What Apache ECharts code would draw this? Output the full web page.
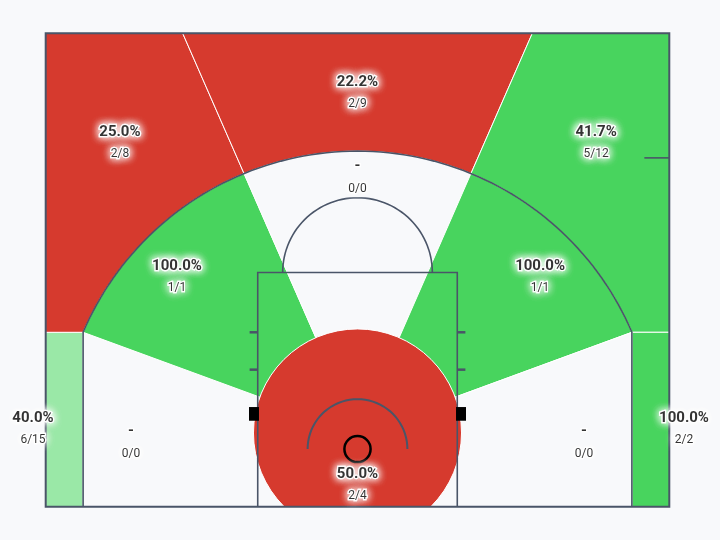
<!DOCTYPE html>
<html><head><meta charset="utf-8">
<script src="https://cdn.jsdelivr.net/npm/echarts/dist/echarts.min.js"></script>
<style>html,body{margin:0;padding:0;background:#f8f9fb;}#c{width:720px;height:540px;}</style>
</head><body><div id="c"></div>
<script>
// ---------- DATA ----------
const zoneNames = ['Left Corner 3','Left Wing 3','Top 3','Right Wing 3','Right Corner 3',
                   'Left Baseline 2','Left Wing 2','Top Key 2','Right Wing 2','Right Baseline 2','Restricted Area'];
const makes    = [6, 2, 2, 5, 2, 0, 1, 0, 1, 0, 2];
const attempts = [15, 8, 9, 12, 2, 0, 1, 0, 1, 0, 4];

// ---------- STYLE / LAYOUT ----------
const zoneColors = ['#9ae8a7','#d63a2e','#d63a2e','#48d45e','#48d45e',
                    '#f8f9fb','#48d45e','#f8f9fb','#48d45e','#f8f9fb','#d63a2e'];
// label anchor (court feet: x across, y from baseline)
const labelPos = [[-26.02,6.2],[-19.05,29.19],[0,33.2],[19.13,29.19],[26.18,6.2],
                  [-18.16,5.15],[-14.47,18.4],[0,26.42],[14.64,18.4],[18.16,5.15],[0,1.74]];
// court geometry in feet
const G = {halfW:25, len:38, basketY:4.63, zoneCY:5.92, rimZoneR:8.34, cornerX:22, cornerY:14,
           paintHW:8, paintLen:18.8, ftR:6, raR:4, rayLow:20.2, rayHigh:66.4, rimR:1.05};

const B = [0, G.basketY], C = [0, G.zoneCY];
const r3 = Math.hypot(G.cornerX, G.cornerY - G.basketY);
const th3 = Math.atan2(G.cornerY - G.basketY, G.cornerX);
const rad = d => d * Math.PI / 180;
function rayArc(angDeg){
  const a = rad(angDeg), d = [Math.cos(a), Math.sin(a)];
  const cb = [C[0]-B[0], C[1]-B[1]];
  const bb = cb[0]*d[0] + cb[1]*d[1], cc = cb[0]*cb[0] + cb[1]*cb[1] - r3*r3;
  const t = -bb + Math.sqrt(bb*bb - cc);
  return [C[0] + t*d[0], C[1] + t*d[1]];
}
function rayTop(angDeg){
  const a = rad(angDeg), t = (G.len + 3 - C[1]) / Math.sin(a);
  return [C[0] + t*Math.cos(a), C[1] + t*Math.sin(a)];
}
function arcPts(cx, cy, r, a0, a1, n){
  const out = []; n = n || 60;
  for (let i = 0; i <= n; i++){ const a = a0 + (a1 - a0) * i / n; out.push([cx + r*Math.cos(a), cy + r*Math.sin(a)]); }
  return out;
}
const angB = p => Math.atan2(p[1]-B[1], p[0]-B[0]);
const JL = [-G.cornerX, G.cornerY], JR = [G.cornerX, G.cornerY];
const IL = rayArc(180 - G.rayHigh), IR = rayArc(G.rayHigh);
const TL = rayTop(180 - G.rayHigh), TR = rayTop(G.rayHigh);
const W = G.halfW + 2, H = G.len + 3;
const zoneShapes = [
  [[-W,-1],[-G.cornerX,-1],JL,[-W,G.cornerY]],
  [C, TL, [-W,H], [-W,G.cornerY], JL],
  [C, TL, TR],
  [C, TR, [W,H], [W,G.cornerY], JR],
  [[W,-1],[G.cornerX,-1],JR,[W,G.cornerY]],
  [C, JL, [-G.cornerX,-1], [0,-1]],
  [C, JL].concat(arcPts(B[0],B[1],r3,angB(JL),angB(IL))).concat([IL]),
  [C, IL].concat(arcPts(B[0],B[1],r3,angB(IL),angB(IR))).concat([IR]),
  [C, IR].concat(arcPts(B[0],B[1],r3,angB(IR),angB(JR))).concat([JR]),
  [C, [0,-1], [G.cornerX,-1], JR],
  'circle'
];

const LINE = '#4a5568';
function labelText(p){
  const i = p.dataIndex, a = attempts[i], m = makes[i];
  const pct = a ? (m / a * 100).toFixed(1) + '%' : '-';
  return '{p|' + pct + '}\n{f|' + m + '/' + a + '}';
}
function labelSeries(glow, z){
  const eff = glow ? {textBorderColor:'#ffffff', textBorderWidth:2.5, textShadowColor:'#ffffff', textShadowBlur:8} : {};
  const col = glow ? '#ffffff' : '#000000';
  return {
    type:'scatter', z:z, clip:false, silent:true,
    symbol:'circle', symbolSize:1, itemStyle:{color:'rgba(0,0,0,0)'},
    data: labelPos.map((p,i) => ({name:zoneNames[i], value:p})),
    label: {
      show:true, position:'inside', formatter: labelText,
      rich: {
        p: Object.assign({fontFamily:'Roboto', fontWeight:'bold', fontSize:15, color:col, lineHeight:22, align:'center'}, eff),
        f: Object.assign({fontFamily:'Roboto', fontSize:12, color:col, lineHeight:22, align:'center'}, eff)
      }
    }
  };
}
const chart = echarts.init(document.getElementById('c'), null, {renderer:'canvas'});
chart.setOption({
  animation: false,
  backgroundColor: '#f8f9fb',
  grid: {left: 45.7, right: 50.7, top: 33.3, bottom: 33.3},
  xAxis: {type:'value', min:-G.halfW, max:G.halfW, show:false},
  yAxis: {type:'value', min:0, max:G.len, show:false},
  series: [
    {
      type:'custom', z:1, clip:true, silent:true,
      data: zoneNames.map((n,i) => ({name:n, value:[0,0,i]})),
      renderItem: (params, api) => {
        const i = params.dataIndex, sh = zoneShapes[i];
        const style = {fill: zoneColors[i], stroke:'#ffffff', lineWidth:1};
        if (sh === 'circle'){
          const c = api.coord(C);
          const r = api.coord([G.rimZoneR,0])[0] - api.coord([0,0])[0];
          return {type:'circle', shape:{cx:c[0], cy:c[1], r:r}, style:style};
        }
        return {type:'polygon', shape:{points: sh.map(p => api.coord(p))}, style:style};
      }
    },
    {
      type:'custom', z:2, clip:false, silent:true,
      data: [[0,0]],
      renderItem: (params, api) => {
        const P = pts => pts.map(p => api.coord(p));
        const ln = (pts, w) => ({type:'polyline', shape:{points:P(pts)}, style:{stroke:LINE, lineWidth:w||1.6, fill:'none'}});
        const rect = (x0,y0,x1,y1,st) => { const a = api.coord([x0,y1]), b = api.coord([x1,y0]);
          return {type:'rect', shape:{x:a[0], y:a[1], width:b[0]-a[0], height:b[1]-a[1]}, style:st}; };
        const three = [[-G.cornerX,0], JL].concat(arcPts(B[0],B[1],r3,Math.PI-th3,th3,90)).concat([JR,[G.cornerX,0]]);
        const rimC = api.coord(B), rimR = api.coord([G.rimR,0])[0] - api.coord([0,0])[0];
        return {type:'group', children:[
          ln(three),
          ln([[-G.paintHW,0],[-G.paintHW,G.paintLen],[G.paintHW,G.paintLen],[G.paintHW,0]]),
          ln(arcPts(0,G.paintLen,G.ftR,0,Math.PI,60)),
          ln(arcPts(B[0],B[1],G.raR,0,Math.PI,40), 2),
          ln([[-G.paintHW-0.65,14],[-G.paintHW,14]],2.5), ln([[-G.paintHW-0.65,11],[-G.paintHW,11]],2.5),
          ln([[G.paintHW,14],[G.paintHW+0.65,14]],2.5), ln([[G.paintHW,11],[G.paintHW+0.65,11]],2.5),
          ln([[23,28],[25,28]],1.6),
          rect(-8.7,6.9,-7.9,8.0,{fill:'#000'}),
          rect(7.9,6.9,8.7,8.0,{fill:'#000'}),
          rect(-G.halfW,0,G.halfW,G.len,{fill:'none', stroke:LINE, lineWidth:2}),
          {type:'circle', shape:{cx:rimC[0], cy:rimC[1], r:rimR}, style:{fill:'none', stroke:'#000', lineWidth:2.5}}
        ]};
      }
    },
    labelSeries(true, 3),
    labelSeries(true, 4),
    labelSeries(false, 5)
  ]
});
</script></body></html>
